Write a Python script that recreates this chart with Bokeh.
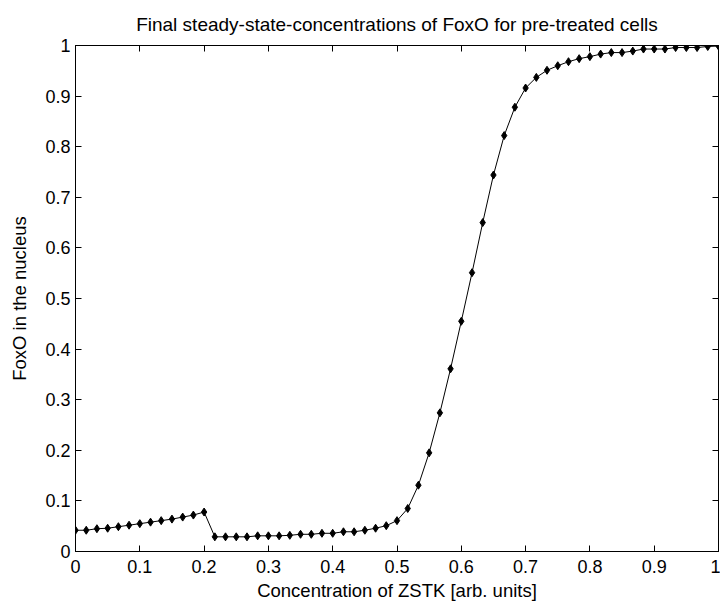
from bokeh.plotting import figure
from bokeh.models import Range1d, LinearAxis, FixedTicker, Title
from bokeh.embed import file_html
from bokeh.resources import INLINE

# ZSTK concentration (arb. units)
zstk = [0.0, 0.0167, 0.0333, 0.05, 0.0667, 0.0833, 0.1, 0.1167, 0.1333, 0.15,
        0.1667, 0.1833, 0.2, 0.2167, 0.2333, 0.25, 0.2667, 0.2833, 0.3, 0.3167,
        0.3333, 0.35, 0.3667, 0.3833, 0.4, 0.4167, 0.4333, 0.45, 0.4667, 0.4833,
        0.5, 0.5167, 0.5333, 0.55, 0.5667, 0.5833, 0.6, 0.6167, 0.6333, 0.65,
        0.6667, 0.6833, 0.7, 0.7167, 0.7333, 0.75, 0.7667, 0.7833, 0.8, 0.8167,
        0.8333, 0.85, 0.8667, 0.8833, 0.9, 0.9167, 0.9333, 0.95, 0.9667, 0.9833, 1.0]

# FoxO in the nucleus (steady state)
foxo = [0.042, 0.042, 0.045, 0.046, 0.049, 0.052, 0.055, 0.058, 0.061, 0.064,
        0.068, 0.072, 0.078, 0.029, 0.029, 0.029, 0.029, 0.031, 0.031, 0.031,
        0.032, 0.034, 0.034, 0.036, 0.036, 0.039, 0.039, 0.042, 0.046, 0.051,
        0.061, 0.085, 0.131, 0.195, 0.274, 0.361, 0.455, 0.551, 0.650, 0.744,
        0.822, 0.878, 0.916, 0.937, 0.951, 0.960, 0.968, 0.974, 0.978, 0.983,
        0.986, 0.986, 0.989, 0.993, 0.993, 0.993, 0.996, 0.996, 0.996, 0.998, 0.999]

ticks = [0, 0.1, 0.2, 0.3, 0.4, 0.5, 0.6, 0.7, 0.8, 0.9, 1]
tick_labels = ["0", "0.1", "0.2", "0.3", "0.4", "0.5", "0.6", "0.7", "0.8", "0.9", "1"]

FONT = "Liberation Sans"

p = figure(width=720, height=606, output_backend="svg", toolbar_location=None,
           x_range=Range1d(0, 1), y_range=Range1d(0, 1),
           min_border_left=75, min_border_right=2, min_border_top=44,
           min_border_bottom=55)
p.title = Title(text="Final steady-state-concentrations of FoxO for pre-treated cells",
                align="center", text_font=FONT, text_font_size="19px",
                text_font_style="normal", text_color="black", standoff=22)
p.grid.visible = False
p.outline_line_color = "black"
p.outline_line_width = 1
p.background_fill_color = "white"
p.border_fill_color = "white"

for ax in (p.xaxis[0], p.yaxis[0]):
    ax.ticker = FixedTicker(ticks=ticks)
    ax.major_label_overrides = dict(zip(ticks, tick_labels))
    ax.major_tick_in = 6
    ax.major_tick_out = 0
    ax.minor_tick_line_color = None
    ax.axis_line_color = "black"
    ax.major_tick_line_color = "black"
    ax.major_label_text_font = FONT
    ax.major_label_text_font_size = "18px"
    ax.major_label_text_color = "black"
    ax.axis_label_text_font = FONT
    ax.axis_label_text_font_size = "18.5px"
    ax.axis_label_text_font_style = "normal"
    ax.axis_label_text_color = "black"

p.xaxis.axis_label = "Concentration of ZSTK [arb. units]"
p.yaxis.axis_label = "FoxO in the nucleus"
p.xaxis.major_label_standoff = 8
p.xaxis.axis_label_standoff = 4
p.yaxis.major_label_standoff = 5
p.yaxis.axis_label_standoff = 12

# box ticks on the top and right edges (no labels), as in MATLAB's boxed axes
for loc in ("right", "above"):
    a = LinearAxis(ticker=FixedTicker(ticks=ticks))
    a.major_label_overrides = {t: "" for t in ticks}
    a.major_label_text_font_size = "18px"
    a.major_tick_in = 6
    a.major_tick_out = 0
    a.minor_tick_line_color = None
    a.major_label_standoff = 0
    a.axis_line_color = "black"
    a.major_tick_line_color = "black"
    p.add_layout(a, loc)

p.line(zstk, foxo, line_color="black", line_width=1)
p.scatter(zstk, foxo, marker="diamond", size=8, fill_color="black", line_color="black")

open("out.html", "w").write(file_html(p, INLINE))
